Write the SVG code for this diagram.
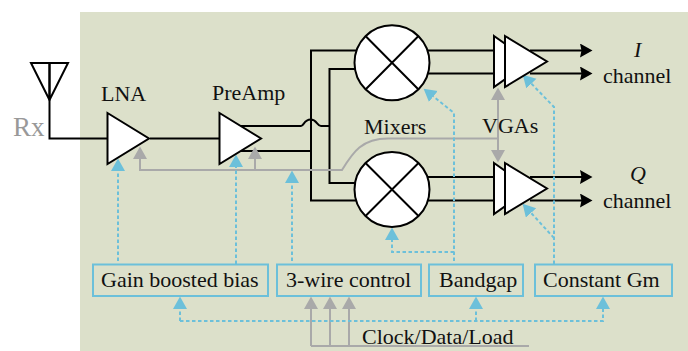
<svg xmlns="http://www.w3.org/2000/svg" width="688" height="351" viewBox="0 0 688 351">
<defs>
<marker id="ab" markerUnits="userSpaceOnUse" markerWidth="14" markerHeight="16" refX="2" refY="7" orient="auto"><path d="M0,0 L12.500,7 L0,14 L1.500,7 Z" fill="#000"/></marker>
<marker id="ag" markerUnits="userSpaceOnUse" markerWidth="14" markerHeight="15" refX="2" refY="7" orient="auto"><path d="M0,0 L12.500,7 L0,14 Z" fill="#a9a9a9"/></marker>
<marker id="ac" markerUnits="userSpaceOnUse" markerWidth="14" markerHeight="15" refX="2" refY="7" orient="auto"><path d="M0,0 L12.500,7 L0,14 Z" fill="#6cc0da"/></marker>
</defs>
<style>
text{font-family:"Liberation Serif","Times New Roman",serif;font-size:22px;fill:#111}
.w{fill:none;stroke:#000;stroke-width:2}
.g{fill:none;stroke:#a9a9a9;stroke-width:2}
.c{fill:none;stroke:#6cc0da;stroke-width:2;stroke-dasharray:3.500 2.500}
.amp{fill:#fff;stroke:#000;stroke-width:2;stroke-linejoin:miter}
.box{fill:none;stroke:#6cc0da;stroke-width:2}
.bx{fill:#fff;stroke:#000;stroke-width:2}
</style>
<rect x="80" y="12" width="608" height="339" fill="#dce0ca"/>
<g id="connectors">
<path class="w" d="M49.500,62 V138.500 H108"/>
<path class="w" d="M150,138.500 H219"/>
<path class="w" d="M240,126 H301 C304,126 304,119.500 310.500,119.500 C317,119.500 317,126 321,126 H330"/>
<path class="w" d="M240,151 H311"/>
<path class="w" d="M356,50.500 H311 V200.500 H356"/>
<path class="w" d="M356,69 H329.500 V183 H356"/>
<path class="w" d="M428,50.500 H494"/>
<path class="w" d="M428,73.500 H494"/>
<path class="w" d="M428,177 H494"/>
<path class="w" d="M428,200.500 H494"/>
<path class="w" d="M530,50.500 H582" marker-end="url(#ab)"/>
<path class="w" d="M530,73.500 H582" marker-end="url(#ab)"/>
<path class="w" d="M530,177 H582" marker-end="url(#ab)"/>
<path class="w" d="M530,200.500 H582" marker-end="url(#ab)"/>
<path class="g" d="M140,157 V170 H342 C353,152 362,138.500 388,138.500 H498"/>
<path class="g" d="M140,170 V157" marker-end="url(#ag)"/>
<path class="g" d="M255,170 V157" marker-end="url(#ag)"/>
<path class="g" d="M498,139 V98" marker-end="url(#ag)"/>
<path class="g" d="M498,139 V152" marker-end="url(#ag)"/>
<path class="g" d="M311,346 V307" marker-end="url(#ag)"/>
<path class="g" d="M330,346 V307" marker-end="url(#ag)"/>
<path class="g" d="M349,346 V307" marker-end="url(#ag)"/>
<path class="g" d="M311,346 H529"/>
<path class="c" d="M118,261 V169" marker-end="url(#ac)"/>
<path class="c" d="M236,264 V165" marker-end="url(#ac)"/>
<path class="c" d="M292,261 V181" marker-end="url(#ac)"/>
<path class="c" d="M454,261 V113 L431.800,95.200" marker-end="url(#ac)"/>
<path class="c" d="M454,252 H392 V238" marker-end="url(#ac)"/>
<path class="c" d="M554,264 V107 L530,82.200" marker-end="url(#ac)"/>
<path class="c" d="M554,238 L529.700,211.400" marker-end="url(#ac)"/>
<path class="c" d="M180,321 V307" marker-end="url(#ac)"/>
<path class="c" d="M180,321 H603 V307" marker-end="url(#ac)"/>
<path class="c" d="M476,321 V307" marker-end="url(#ac)"/>
</g>
<g id="antenna"><path class="w" d="M31,63 H68 L49.500,100 Z M49.500,63 V100"/></g>
<g id="lna"><path class="amp" d="M107.500,113 L149,138.500 L107.500,164 Z"/><text x="101" y="101">LNA</text></g>
<g id="preamp"><path class="amp" d="M219.500,113 L261,138.500 L219.500,164 Z"/><text x="212" y="100">PreAmp</text></g>
<g id="mixer-i"><circle class="bx" cx="392" cy="62.800" r="37.500"/><path class="w" d="M365.500,36 L418.500,89.500 M418.500,36 L365.500,89.500"/></g>
<g id="mixer-q"><circle class="bx" cx="392" cy="189.500" r="37.500"/><path class="w" d="M365.500,163 L418.500,216 M418.500,163 L365.500,216"/></g>
<g id="vga-i"><path class="amp" d="M494,36 L530,61.500 L494,87 Z"/><path class="amp" d="M505,36 L547,61.500 L505,87 Z"/></g>
<g id="vga-q"><path class="amp" d="M494,163 L530,188.500 L494,214 Z"/><path class="amp" d="M505,163 L547,188.500 L505,214 Z"/></g>
<g id="bias"><rect class="box" x="93" y="264.500" width="175" height="31.500"/><text x="101" y="287">Gain boosted bias</text></g>
<g id="ctrl"><rect class="box" x="277" y="264.500" width="144" height="31.500"/><text x="286" y="287">3-wire control</text></g>
<g id="bandgap"><rect class="box" x="429" y="264.500" width="94" height="31.500"/><text x="439" y="287">Bandgap</text></g>
<g id="gm"><rect class="box" x="535" y="264.500" width="137" height="31.500"/><text x="543" y="287">Constant Gm</text></g>
<text x="13" y="136" style="font-size:27px;fill:#999">Rx</text>
<text x="364" y="134">Mixers</text>
<text x="482" y="133">VGAs</text>
<text x="362" y="344">Clock/Data/Load</text>
<text x="634" y="57" style="font-style:italic">I</text>
<text x="603" y="83">channel</text>
<text x="630" y="181" style="font-style:italic">Q</text>
<text x="603" y="208">channel</text>
</svg>
